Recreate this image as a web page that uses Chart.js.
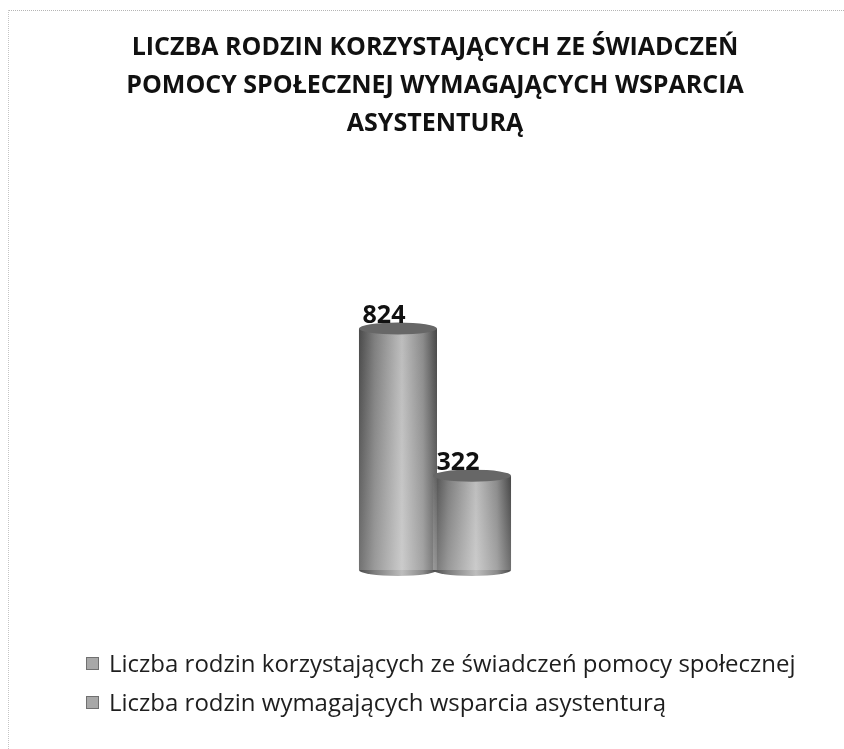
<!DOCTYPE html>
<html>
<head>
<meta charset="utf-8">
<script src="https://cdn.jsdelivr.net/npm/chart.js@4.4.1/dist/chart.umd.min.js"></script>
<style>
  html, body { margin: 0; padding: 0; background: #fff; }
  #wrap { position: relative; width: 844px; height: 749px; overflow: hidden; }
  #frame { position: absolute; left: 8px; top: 10px; right: -2px; bottom: -2px;
           border-top: 1px dotted #b5b5b5; border-left: 1px dotted #c5c5c5; }
  #legend { position: absolute; left: 86px; top: 643px; font-family: "Open Sans", sans-serif;
            font-size: 24px; color: #1e1e1e; }
  #legend div { height: 39px; display: flex; align-items: center; white-space: nowrap; }
  #legend span.box { display: inline-block; width: 13px; height: 13px; margin-right: 10px; margin-top: 2px;
                     background: #a8a8a8; border: 1px solid #707070; box-sizing: border-box; }
</style>
</head>
<body>
<div id="wrap">
  <canvas id="familyChart" width="844" height="749"></canvas>
  <div id="frame"></div>
  <div id="legend"></div>
</div>
<script>
// --- data ---
const categories = [''];
const seriesNames = [
    'Liczba rodzin korzystających ze świadczeń pomocy społecznej',
    'Liczba rodzin wymagających wsparcia asystenturą'
];
const families = [824];
const needingSupport = [322];
const chartTitle = [
    'LICZBA RODZIN KORZYSTAJĄCYCH ZE ŚWIADCZEŃ',
    'POMOCY SPOŁECZNEJ WYMAGAJĄCYCH WSPARCIA',
    'ASYSTENTURĄ'
];

// grey cylinder shading, left-to-right
function cylinderFill(chart, bar) {
    const half = bar.width / 2;
    const g = chart.ctx.createLinearGradient(bar.x - half, 0, bar.x + half, 0);
    g.addColorStop(0, '#4a4a4a');
    g.addColorStop(0.2, '#7e7e7e');
    g.addColorStop(0.55, '#bdbdbd');
    g.addColorStop(0.82, '#8a8a8a');
    g.addColorStop(1, '#474747');
    return g;
}

// shading, ellipse caps and value labels
const cylinderCaps = {
    id: 'cylinderCaps',
    beforeDatasetsDraw(chart) {
        chart.data.datasets.forEach((ds, i) => {
            chart.getDatasetMeta(i).data.forEach(bar => {
                bar.options.backgroundColor = cylinderFill(chart, bar);
            });
        });
    },
    afterDatasetsDraw(chart) {
        const ctx = chart.ctx;
        chart.data.datasets.forEach((ds, i) => {
            const meta = chart.getDatasetMeta(i);
            meta.data.forEach((bar, j) => {
                const rx = bar.width / 2;
                const ry = 6;
                ctx.save();
                // lighter toward the bottom
                const v = ctx.createLinearGradient(0, bar.y, 0, bar.base);
                v.addColorStop(0, 'rgba(255,255,255,0)');
                v.addColorStop(1, 'rgba(255,255,255,0.22)');
                ctx.fillStyle = v;
                ctx.fillRect(bar.x - rx, bar.y, bar.width, bar.base - bar.y);
                // bottom
                ctx.beginPath();
                ctx.ellipse(bar.x, bar.base, rx, ry, 0, 0, Math.PI);
                ctx.fillStyle = cylinderFill(chart, bar);
                ctx.fill();
                // top
                ctx.beginPath();
                ctx.ellipse(bar.x, bar.y, rx, ry, 0, 0, Math.PI * 2);
                ctx.fillStyle = '#676767';
                ctx.fill();
                // value
                ctx.fillStyle = '#111';
                ctx.font = 'bold 25px "Open Sans", sans-serif';
                ctx.textAlign = 'center';
                ctx.textBaseline = 'alphabetic';
                ctx.fillText(String(ds.data[j]), bar.x - 14, bar.y - ry);
                ctx.restore();
            });
        });
    }
};

document.addEventListener("DOMContentLoaded", function() {
    const ctx = document.getElementById('familyChart');
    const chart = new Chart(ctx.getContext('2d'), {
        type: 'bar',
        data: {
            labels: categories,
            datasets: [
                { label: seriesNames[0], data: families, backgroundColor: '#999', borderWidth: 0 },
                { label: seriesNames[1], data: needingSupport, backgroundColor: '#999', borderWidth: 0 }
            ]
        },
        options: {
            responsive: false,
            animation: false,
            layout: { padding: { left: 26, right: 0, top: 0, bottom: 179 } },
            categoryPercentage: 0.181,
            barPercentage: 1.054,
            plugins: {
                legend: { display: false },
                tooltip: { enabled: false },
                title: {
                    display: true,
                    text: chartTitle,
                    color: '#111',
                    font: { family: '"Open Sans", sans-serif', size: 25, weight: 'bold', lineHeight: 1.52 },
                    padding: { top: 29, bottom: 134 }
                }
            },
            scales: {
                x: { display: false },
                y: { display: false, min: 0, max: 1000 }
            }
        },
        plugins: [cylinderCaps]
    });

    // legend below the chart, one row per series
    const legend = document.getElementById('legend');
    chart.data.datasets.forEach(ds => {
        const row = document.createElement('div');
        row.innerHTML = '<span class="box"></span>' + ds.label;
        legend.appendChild(row);
    });
});
</script>
</body>
</html>
